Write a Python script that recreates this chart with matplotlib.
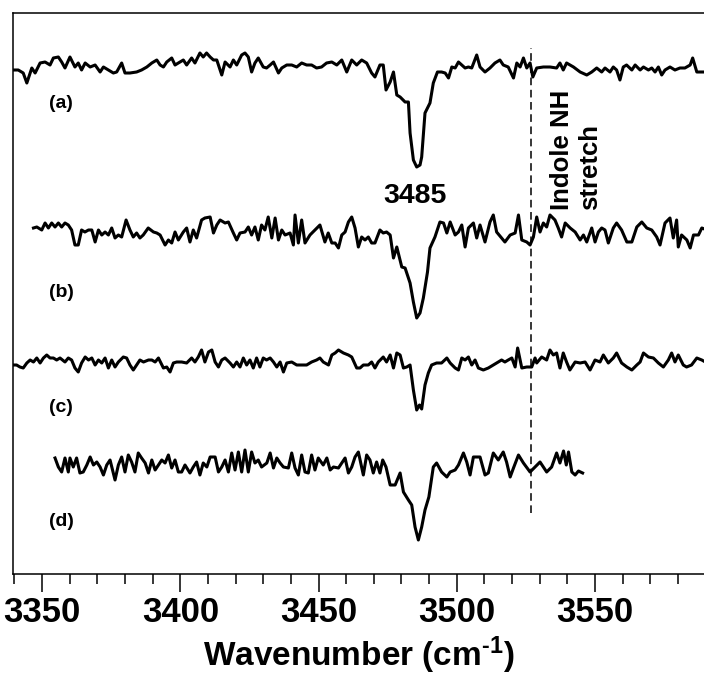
import matplotlib
matplotlib.use("Agg")
import matplotlib.pyplot as plt
import numpy as np
from matplotlib.ticker import MultipleLocator

plt.rcParams["font.family"] = ["Liberation Sans", "DejaVu Sans"]
plt.rcParams["font.weight"] = "bold"
plt.rcParams["mathtext.fontset"] = "custom"
plt.rcParams["mathtext.rm"] = "Liberation Sans:bold"
plt.rcParams["mathtext.it"] = "Liberation Sans:bold"
plt.rcParams["mathtext.bf"] = "Liberation Sans:bold"
plt.rcParams["mathtext.default"] = "rm"

# --- spectrum (a): wavenumber (cm-1) and deviation from the trace baseline ---
wn_a = [
    3340.0, 3341.4, 3343.2, 3344.5, 3346.3, 3347.5, 3349.3, 3351.1, 3352.9, 3354.1,
    3355.9, 3357.1, 3358.3, 3360.1, 3361.9, 3363.1, 3364.3, 3365.6, 3367.4, 3369.2,
    3371.0, 3372.2, 3374.0, 3375.8, 3377.0, 3378.8, 3380.0, 3381.8, 3384.2, 3386.0,
    3387.9, 3389.7, 3391.5, 3392.7, 3393.9, 3395.1, 3396.9, 3398.1, 3399.3, 3401.1,
    3402.3, 3404.1, 3405.3, 3407.1, 3408.3, 3409.5, 3410.8, 3412.0, 3413.2, 3415.0,
    3416.2, 3418.0, 3419.2, 3420.4, 3422.2, 3423.4, 3424.6, 3425.8, 3427.0, 3428.2,
    3430.0, 3431.2, 3432.5, 3433.7, 3435.5, 3436.7, 3438.5, 3440.3, 3442.1, 3443.9,
    3445.7, 3447.5, 3449.3, 3451.1, 3452.9, 3454.8, 3456.6, 3458.4, 3460.2, 3462.0,
    3463.8, 3465.6, 3467.4, 3469.2, 3470.4, 3472.2, 3473.4, 3474.4, 3475.9, 3477.1,
    3478.3, 3479.5, 3481.3, 3482.5, 3483.1, 3484.3, 3485.5, 3486.7, 3487.3, 3488.5,
    3490.3, 3491.5, 3493.0, 3494.5, 3495.8, 3497.0, 3498.2, 3499.4, 3500.6, 3501.8,
    3503.0, 3504.2, 3505.4, 3507.2, 3508.4, 3510.2, 3512.0, 3513.8, 3515.6, 3516.8,
    3518.6, 3520.5, 3521.7, 3522.9, 3524.1, 3525.3, 3526.5, 3527.5, 3528.9, 3531.3,
    3533.7, 3536.1, 3537.3, 3538.5, 3539.7, 3542.2, 3544.6, 3547.0, 3548.8, 3550.6,
    3552.4, 3553.6, 3555.4, 3556.6, 3557.8, 3559.0, 3560.2, 3561.4, 3563.3, 3564.5,
    3566.3, 3567.5, 3569.3, 3570.5, 3571.7, 3572.9, 3574.1, 3575.3, 3577.1, 3578.9,
    3580.7, 3582.5, 3584.4, 3585.3, 3586.8, 3589.4,
]
dev_a = [
    -2, -2, -5, -15, 0, -5, 5, 6, 3, 10,
    11, 6, 0, 11, 1, 5, -2, 5, 1, 3,
    -4, 1, -2, -5, -4, 5, -5, -5, -4, -2,
    1, 5, 8, 3, 1, 6, 10, 3, 5, 8,
    3, 10, 5, 15, 11, 15, 11, 8, 8, -7,
    6, 1, 8, 3, 13, 15, 11, -4, 5, 10,
    1, 0, 3, 6, -5, 0, 3, 3, 1, 5,
    3, 3, 0, 1, 5, 6, 3, 8, -4, 8,
    3, 8, 5, -5, -9, 3, 3, -22, -14, -4,
    -27, -29, -34, -34, -65, -92, -99, -97, -89, -45,
    -35, -15, -4, -4, -5, -10, 1, 0, 6, 3,
    0, 1, 0, 13, 1, -4, 0, 5, 8, 3,
    1, -10, 5, 1, 10, 0, 5, -9, 0, 1,
    1, 0, 5, -2, 5, 1, -4, -7, -4, 0,
    -4, 0, -4, 1, -2, -12, 1, 3, -2, 3,
    -2, 1, -2, 0, -4, 1, -7, -2, 1, -2,
    0, 0, 3, 10, -4, -4,
]

# --- spectrum (b) ---
wn_b = [
    3346.9, 3348.1, 3349.9, 3351.1, 3352.3, 3353.5, 3354.7, 3355.9, 3357.1, 3358.3,
    3359.5, 3360.7, 3361.9, 3363.1, 3364.3, 3365.5, 3366.8, 3368.0, 3369.2, 3370.4,
    3371.6, 3372.8, 3374.0, 3375.2, 3376.4, 3377.6, 3378.8, 3380.4, 3381.8, 3383.0,
    3384.2, 3385.4, 3386.6, 3388.4, 3390.3, 3391.5, 3392.7, 3394.5, 3395.7, 3396.9,
    3398.1, 3399.3, 3401.1, 3402.3, 3403.5, 3404.7, 3405.9, 3407.7, 3408.9, 3410.8,
    3412.0, 3413.2, 3414.4, 3416.2, 3417.4, 3419.2, 3420.4, 3421.6, 3423.4, 3424.6,
    3425.8, 3427.0, 3428.2, 3429.4, 3430.6, 3431.8, 3433.1, 3434.3, 3435.5, 3436.7,
    3437.9, 3439.7, 3440.9, 3441.5, 3442.7, 3443.9, 3445.1, 3446.9, 3448.7, 3450.5,
    3452.3, 3453.5, 3454.8, 3456.0, 3457.2, 3458.4, 3459.6, 3460.8, 3462.0, 3463.2,
    3464.4, 3465.6, 3466.8, 3468.0, 3469.2, 3470.4, 3472.2, 3473.4, 3474.6, 3475.9,
    3477.1, 3478.3, 3480.1, 3481.3, 3483.1, 3484.3, 3485.5, 3486.7, 3487.9, 3489.4,
    3490.3, 3492.1, 3493.9, 3495.2, 3496.4, 3497.6, 3499.4, 3500.6, 3501.8, 3503.0,
    3504.2, 3506.0, 3507.2, 3508.4, 3510.2, 3512.0, 3513.2, 3514.4, 3516.2, 3517.4,
    3519.3, 3521.1, 3522.3, 3523.5, 3525.3, 3526.5, 3527.7, 3528.9, 3530.1, 3531.3,
    3532.5, 3533.7, 3535.5, 3536.7, 3537.9, 3539.2, 3541.0, 3542.8, 3544.6, 3545.8,
    3547.0, 3548.8, 3550.0, 3551.2, 3552.4, 3553.6, 3554.8, 3556.6, 3557.8, 3559.6,
    3561.5, 3563.3, 3565.1, 3566.9, 3568.7, 3570.5, 3572.3, 3573.5, 3575.3, 3577.1,
    3578.3, 3579.5, 3580.1, 3581.3, 3583.2, 3584.4, 3585.6, 3587.4, 3588.6, 3590.5,
]
dev_b = [
    7, 8, 5, 12, 7, 12, 8, 12, 8, 12,
    10, 5, -10, -10, 5, 3, 5, 5, -7, 5,
    0, 3, 0, 7, -3, 0, -2, 15, 5, -2,
    2, -3, 0, 7, 3, 2, 0, -10, -5, -8,
    3, -5, 3, 7, -7, 5, -3, 15, 17, 18,
    2, 10, 15, 12, 13, 2, -5, 2, 3, 8,
    0, 8, -5, 10, 5, 18, -3, 17, -5, 5,
    0, 2, -10, 20, -8, 15, -8, 0, 5, 10,
    -7, 2, -8, -8, -13, 0, 3, 13, 18, 7,
    -12, -2, -5, -2, -8, -8, 5, 2, 3, 0,
    -23, -12, -32, -33, -48, -67, -83, -78, -63, -37,
    -13, -2, 13, 12, 2, 13, 0, 3, 10, -12,
    7, 12, -3, 10, -7, 13, 20, 3, -3, -7,
    0, 2, 20, -5, -7, -10, -2, 18, 3, 12,
    8, 20, 15, 7, -2, 12, 7, 3, -5, 0,
    -7, 7, -7, 3, 7, 5, -8, 7, 12, 5,
    -7, -7, 8, 13, 7, 5, -2, -10, 12, 17,
    -3, 15, -12, 0, -5, -13, 0, 0, 7, 5,
]

# --- spectrum (c) ---
wn_c = [
    3340.0, 3340.8, 3342.0, 3343.2, 3344.5, 3345.7, 3346.9, 3348.1, 3349.3, 3350.5,
    3351.7, 3352.9, 3354.1, 3355.3, 3356.5, 3358.3, 3359.5, 3360.7, 3361.9, 3363.1,
    3364.3, 3365.6, 3366.8, 3368.0, 3369.2, 3370.4, 3371.6, 3372.8, 3374.0, 3375.2,
    3376.4, 3377.6, 3379.4, 3380.6, 3381.8, 3383.0, 3384.2, 3385.4, 3386.7, 3388.5,
    3389.7, 3390.9, 3392.1, 3393.9, 3395.1, 3396.3, 3397.5, 3398.7, 3400.5, 3402.3,
    3404.1, 3405.3, 3406.5, 3407.7, 3408.9, 3410.2, 3411.4, 3412.6, 3413.8, 3415.0,
    3416.2, 3418.0, 3419.2, 3420.4, 3421.6, 3422.8, 3424.0, 3425.2, 3426.4, 3427.6,
    3428.8, 3430.0, 3431.2, 3432.5, 3433.7, 3434.9, 3436.1, 3437.3, 3438.5, 3440.3,
    3442.1, 3443.9, 3445.7, 3447.5, 3449.3, 3450.5, 3451.7, 3453.6, 3454.8, 3456.0,
    3457.2, 3459.0, 3460.8, 3462.0, 3463.8, 3465.0, 3466.2, 3468.0, 3469.2, 3470.4,
    3471.6, 3473.4, 3474.6, 3475.9, 3477.1, 3478.3, 3479.5, 3480.7, 3481.9, 3483.1,
    3484.3, 3485.5, 3486.5, 3487.3, 3488.5, 3489.7, 3490.9, 3492.7, 3494.5, 3496.4,
    3497.6, 3499.4, 3500.6, 3501.8, 3503.0, 3504.2, 3505.4, 3506.6, 3507.8, 3509.6,
    3511.4, 3513.2, 3514.4, 3516.2, 3517.4, 3518.6, 3519.9, 3521.1, 3522.0, 3523.5,
    3525.3, 3527.1, 3528.3, 3528.9, 3530.7, 3532.5, 3533.7, 3534.9, 3536.1, 3537.3,
    3538.5, 3539.7, 3540.9, 3542.8, 3544.6, 3546.4, 3548.2, 3550.0, 3551.8, 3553.0,
    3554.8, 3556.6, 3557.8, 3559.6, 3561.5, 3563.3, 3565.1, 3566.3, 3567.5, 3569.3,
    3571.1, 3572.9, 3574.7, 3576.5, 3577.7, 3578.9, 3580.1, 3581.9, 3583.1, 3584.9,
    3586.8, 3588.6, 3590.5,
]
dev_c = [
    0, 0, -2, -3, 2, 5, 3, 7, 2, 7,
    10, 7, 7, 5, 7, 3, 7, 5, -3, -7,
    2, 8, 5, 7, 0, 5, 2, 7, -3, 5,
    -2, 3, 8, 7, 0, -5, 0, 5, 3, 5,
    5, 3, 7, -3, -2, -7, 2, 3, 3, 2,
    7, 3, 8, 15, 3, 13, 15, 3, -2, 5,
    7, 2, -2, 3, -2, 7, 0, 5, -3, 7,
    -2, 7, 5, 7, 3, -2, 3, -7, 2, 3,
    0, 0, 0, 3, 5, 7, 3, 0, 10, 12,
    15, 12, 10, 8, -3, -3, 0, 0, 3, -3,
    3, 8, 3, 10, -3, 12, 10, -3, -2, 0,
    -25, -45, -40, -44, -20, -8, 0, 2, 2, 7,
    2, -3, -5, 7, 5, 8, 0, 5, -3, -5,
    -3, 0, 2, 5, 3, 5, 7, -2, 17, -3,
    -2, -2, 7, 2, 8, 5, 15, 10, 12, -3,
    12, 3, -5, 3, 2, 3, -5, 5, 3, 10,
    2, 7, 12, 2, -2, -5, 0, 3, 12, 8,
    7, 2, -2, 5, 12, 3, 10, 0, -2, 0,
    7, 5, 2,
]

# --- spectrum (d) ---
wn_d = [
    3354.7, 3355.9, 3357.1, 3358.3, 3359.5, 3360.1, 3361.3, 3362.5, 3363.7, 3364.9,
    3366.2, 3367.4, 3368.6, 3369.8, 3371.0, 3372.2, 3373.4, 3374.6, 3376.4, 3377.6,
    3378.8, 3380.0, 3381.2, 3382.4, 3383.6, 3384.8, 3386.0, 3387.3, 3388.5, 3389.7,
    3390.9, 3392.1, 3393.3, 3394.5, 3395.7, 3396.9, 3398.1, 3399.3, 3400.5, 3401.7,
    3403.5, 3404.7, 3405.9, 3407.1, 3408.3, 3409.6, 3410.8, 3412.6, 3413.8, 3415.0,
    3416.2, 3417.4, 3418.6, 3419.8, 3421.0, 3422.2, 3423.4, 3424.6, 3425.8, 3427.0,
    3428.2, 3429.4, 3431.3, 3432.5, 3433.7, 3434.9, 3436.1, 3437.3, 3439.1, 3440.3,
    3441.5, 3442.7, 3443.9, 3445.1, 3446.3, 3447.5, 3448.7, 3449.9, 3451.7, 3453.0,
    3454.2, 3455.4, 3457.2, 3458.4, 3459.6, 3460.8, 3462.0, 3463.2, 3464.4, 3466.2,
    3467.4, 3468.6, 3469.8, 3471.0, 3472.2, 3473.2, 3474.4, 3475.9, 3477.7, 3479.5,
    3480.7, 3482.5, 3483.7, 3484.9, 3486.1, 3487.3, 3488.5, 3489.9, 3491.5, 3492.7,
    3494.5, 3496.4, 3497.6, 3499.4, 3500.6, 3502.4, 3503.6, 3504.8, 3506.0, 3507.2,
    3508.4, 3510.2, 3511.4, 3513.2, 3515.0, 3516.8, 3518.0, 3519.3, 3520.5, 3522.3,
    3524.1, 3526.5, 3528.3, 3530.1, 3532.5, 3534.3, 3536.1, 3537.3, 3538.6, 3539.6,
    3540.4, 3541.6, 3542.8, 3544.0, 3545.5,
]
dev_d = [
    9, 0, -5, 9, -5, 9, 0, 9, -6, -5,
    2, 10, 2, 5, 0, -8, 2, 7, -13, 2,
    10, -5, 12, 5, -5, 14, 9, 4, -6, 7,
    -3, 2, 7, 4, 12, -1, 7, -5, -5, 2,
    -6, 0, 5, -8, 4, 0, 10, 10, -5, 0,
    7, -5, 14, -3, 15, -5, 17, -5, 15, 4,
    7, 0, 4, 14, -1, 9, 4, 0, -1, 14,
    -1, -8, 12, -5, -6, 12, -3, 9, 2, 9,
    -3, 0, -1, 4, 9, -6, 0, 10, 15, -8,
    12, 7, -6, 5, -6, 7, 0, -18, -18, -6,
    -25, -33, -38, -60, -73, -60, -43, -30, 0, 4,
    -5, -10, -5, -3, 2, 14, 5, -8, 10, 10,
    10, -8, -6, 14, 7, 15, 5, -10, -1, 12,
    4, -5, 0, 5, -5, 0, 14, 4, 16, 2,
    15, -5, -8, -4, -6,
]

# vertical offsets used to stack the four traces
baselines = [506, 339, 209, 107]
panel_labels = ["(a)", "(b)", "(c)", "(d)"]
label_heights = [471, 282, 167, 52]

peak_wn = 3485
indole_nh_wn = 3527

fig = plt.figure(figsize=(7.04, 6.81), dpi=100)
ax = fig.add_axes([13 / 704, 1 - 574 / 681, 1 - 13 / 704, 561 / 681])

traces = [(wn_a, dev_a), (wn_b, dev_b), (wn_c, dev_c), (wn_d, dev_d)]
for (wn, dev), base in zip(traces, baselines):
    ax.plot(wn, base + np.asarray(dev, dtype=float), color="black", lw=2.2)

ax.vlines(indole_nh_wn, 61, 526, colors="black", linestyles=(0, (5, 3)), lw=1.1)

for lab, yy in zip(panel_labels, label_heights):
    ax.text(3357, yy, lab, fontsize=14, fontweight="bold", ha="center", va="center")

ax.text(peak_wn, 378, str(peak_wn), fontsize=20.5, fontweight="bold",
        ha="center", va="center")
ax.text(3543, 364, "Indole NH\nstretch", fontsize=18.5, fontweight="bold",
        rotation=90, ha="center", va="bottom", multialignment="left")

ax.set_xlim(3339.5, 3589.4)
ax.set_ylim(0, 561)
ax.set_xticks(np.arange(3350, 3551, 50))
ax.xaxis.set_minor_locator(MultipleLocator(10))
ax.set_yticks([])
ax.tick_params(axis="x", which="major", direction="out", length=13, width=1.1,
               labelsize=25, pad=3)
ax.tick_params(axis="x", which="minor", direction="out", length=7, width=1.1)
for lbl in ax.get_xticklabels():
    lbl.set_fontweight("bold")
ax.spines["right"].set_visible(False)
for side in ("left", "top", "bottom"):
    ax.spines[side].set_linewidth(1.1)

ax.set_xlabel(r"Wavenumber (cm$^{\text{-}1}$)", fontsize=24, fontweight="bold",
              labelpad=4)

fig.savefig("out.png", dpi=100)
